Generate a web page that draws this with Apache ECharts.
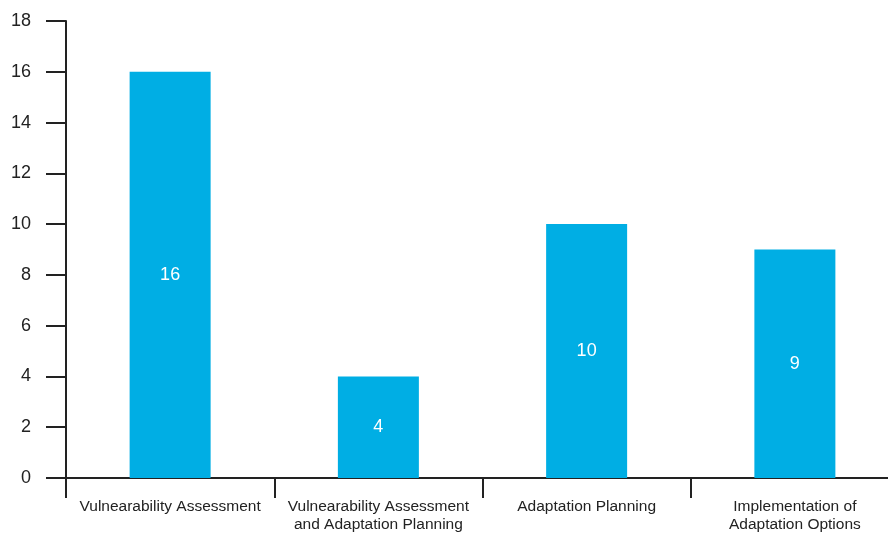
<!DOCTYPE html>
<html>
<head>
<meta charset="utf-8">
<script src="https://cdn.jsdelivr.net/npm/echarts@6/dist/echarts.min.js"></script>
<style>
  html, body { margin: 0; padding: 0; background: #fff; overflow: hidden; }
  /* the plot runs past the right edge of the window in the original */
  #chart { width: 899px; height: 534px; }
</style>
</head>
<body>
<div id="chart"></div>
<script>
const categories = [
  'Vulnearability Assessment',
  'Vulnearability Assessment\nand Adaptation Planning',
  'Adaptation Planning',
  'Implementation of\nAdaptation Options'
];
const counts = [16, 4, 10, 9];
const yTicks = [0, 2, 4, 6, 8, 10, 12, 14, 16, 18];

const myChart = echarts.init(document.getElementById('chart'));
const option = {
  animation: false,
  textStyle: { fontFamily: 'Liberation Sans, Arial, sans-serif' },
  grid: { left: 66, right: 0, top: 21, bottom: 56 },
  xAxis: {
    type: 'category',
    data: categories,
    axisLine: { lineStyle: { color: '#222', width: 2 } },
    axisTick: { show: true, length: 20, alignWithLabel: false, lineStyle: { color: '#222', width: 2 } },
    axisLabel: { color: '#222', fontSize: 15.5, lineHeight: 18, margin: 20, interval: 0 }
  },
  yAxis: {
    type: 'value',
    min: yTicks[0],
    max: yTicks[yTicks.length - 1],
    interval: 2,
    splitLine: { show: false },
    axisLine: { show: true, lineStyle: { color: '#222', width: 2 } },
    axisTick: { show: true, length: 20, lineStyle: { color: '#222', width: 2 } },
    axisLabel: { color: '#222', fontSize: 18, margin: 35 }
  },
  series: [{
    type: 'bar',
    data: counts,
    barWidth: 81,
    itemStyle: { color: '#00AEE4' },
    label: { show: true, position: 'inside', color: '#fff', fontSize: 18 }
  }]
};
option && myChart.setOption(option);
</script>
</body>
</html>
